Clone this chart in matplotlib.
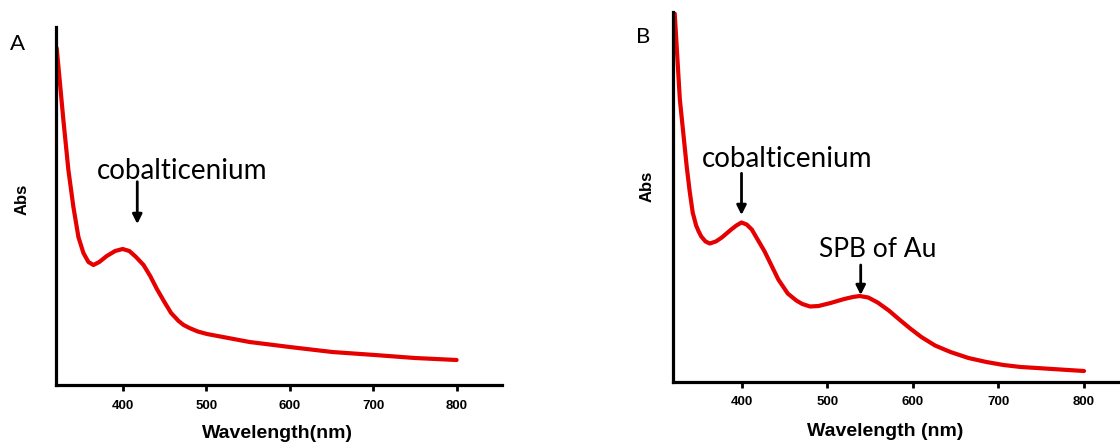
import numpy as np
import matplotlib
matplotlib.use('Agg')
import matplotlib.pyplot as plt

plt.rcParams['font.family'] = ['Liberation Sans', 'DejaVu Sans']

# panel A: cobalticenium only
wl_a = [321, 329, 335, 341, 347, 353, 359, 365, 372, 381, 391, 400, 408,
        416, 425, 433, 441, 450, 458, 467, 473, 480, 490, 501, 552, 600, 651,
        702, 750, 800]
abs_a = [3.37, 2.65, 2.15, 1.78, 1.48, 1.32, 1.23, 1.20, 1.23, 1.29, 1.34,
         1.36, 1.34, 1.28, 1.20, 1.09, 0.96, 0.83, 0.72, 0.64, 0.60, 0.57,
         0.535, 0.51, 0.43, 0.38, 0.33, 0.30, 0.27, 0.25]

# panel B: cobalticenium + Au nanoparticles
wl_b = [322, 328, 336, 339.5, 343, 347, 350, 353, 358, 363, 370, 377, 388,
        394, 400, 406, 412, 427, 443, 454, 464, 471, 480, 490, 504, 520, 530,
        538, 548, 559, 572, 585, 597, 610, 626, 644, 665, 686, 706, 726, 745,
        763, 800]
abs_b = [3.68, 2.82, 2.15, 1.90, 1.69, 1.56, 1.50, 1.45, 1.40, 1.38, 1.40,
         1.44, 1.52, 1.56, 1.59, 1.57, 1.52, 1.30, 1.02, 0.88, 0.81, 0.775,
         0.75, 0.755, 0.785, 0.825, 0.845, 0.855, 0.84, 0.79, 0.71, 0.615,
         0.53, 0.445, 0.36, 0.295, 0.235, 0.195, 0.165, 0.145, 0.135, 0.125,
         0.105]

xticks = [400, 500, 600, 700, 800]
red = '#e60000'
W, H = 1120, 442

fig = plt.figure(figsize=(11.2, 4.42), dpi=100)
ax_a = fig.add_axes([55.7 / W, 1 - 385 / H, 446 / W, (385 - 26.7) / H])
ax_b = fig.add_axes([673 / W, 1 - 381.5 / H, 447 / W, (381.5 - 11.7) / H])


def style(ax, x, y, xlim, ylim, label, lx):
    ax.plot(x, y, color=red, lw=3, solid_joinstyle='round',
            solid_capstyle='round')
    ax.set_xlim(*xlim)
    ax.set_ylim(*ylim)
    for s in ['top', 'right']:
        ax.spines[s].set_visible(False)
    for s in ['left', 'bottom']:
        ax.spines[s].set_linewidth(2.3)
    ax.set_yticks([])
    ax.set_xticks(xticks)
    ax.tick_params(axis='x', length=4.5, width=2, pad=6, labelsize=9.5)
    for t in ax.get_xticklabels():
        t.set_fontweight('bold')
    ax.set_xlabel(label, fontsize=14, fontweight='bold')
    ax.xaxis.set_label_coords(lx, -0.112)


style(ax_a, wl_a, abs_a, (319.8, 854), (0, 3.583), 'Wavelength(nm)', 0.497)
style(ax_b, wl_b, abs_b, (320, 842), (0, 3.698), 'Wavelength (nm)', 0.474)

lato = ['Lato', 'DejaVu Sans']
arr = dict(arrowstyle='-|>', lw=2, color='black', mutation_scale=14,
           shrinkA=0, shrinkB=0)

ax_a.text(369.6, 2.057, 'cobalticenium', fontsize=20, family=lato,
          ha='left', va='baseline')
ax_a.annotate('', xy=(417.5, 1.61), xytext=(417.5, 2.033), arrowprops=arr)

ax_b.text(353.3, 2.148, 'cobalticenium', fontsize=20, family=lato,
          ha='left', va='baseline')
ax_b.annotate('', xy=(400, 1.665), xytext=(400, 2.082), arrowprops=arr)
ax_b.text(490.5, 1.248, 'SPB of Au', fontsize=19, family=lato,
          ha='left', va='baseline')
ax_b.annotate('', xy=(539.2, 0.865), xytext=(539.2, 1.165), arrowprops=arr)

# panel letters and y labels
fig.text(10 / W, 1 - 50 / H, 'A', fontsize=16, family=lato)
fig.text(636 / W, 1 - 43 / H, 'B', fontsize=16, family=lato)
fig.text(21.7 / W, 1 - 199 / H, 'Abs', fontsize=12, fontweight='bold',
         rotation=90, ha='center', va='center')
fig.text(647 / W, 1 - 186.7 / H, 'Abs', fontsize=12, fontweight='bold',
         rotation=90, ha='center', va='center')

fig.savefig('out.png', dpi=100)
